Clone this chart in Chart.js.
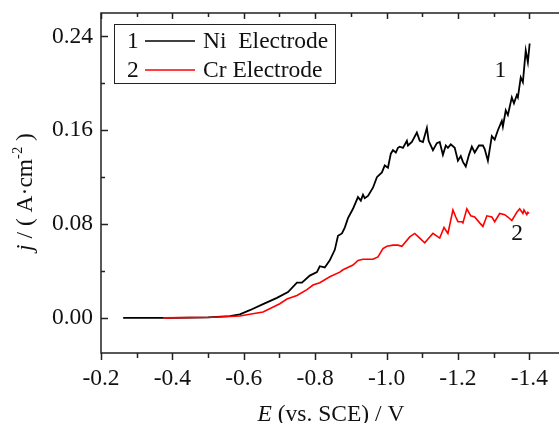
<!DOCTYPE html>
<html>
<head>
<meta charset="utf-8">
<script src="https://cdn.jsdelivr.net/npm/chart.js@4.4.1/dist/chart.umd.min.js"></script>
<style>
  html, body { margin: 0; padding: 0; background: #fff; overflow: hidden; }
  #wrap { width: 580px; height: 423px; }
</style>
</head>
<body>
<div id="wrap"><canvas id="lsvChart" width="580" height="423"></canvas></div>
<script>
// Linear sweep voltammetry: current density j vs. potential E (vs. SCE)
const SERIF = '"Liberation Serif", "Times New Roman", serif';
const FONT_PX = 23.5;

// curve 1 - Ni electrode
const niPotential = [
  -0.262, -0.400, -0.500, -0.561, -0.589, -0.617, -0.654, -0.693, -0.724, -0.749,
  -0.763, -0.785, -0.805, -0.813, -0.827, -0.841, -0.855, -0.864, -0.875, -0.883,
  -0.892, -0.906, -0.920, -0.928, -0.934, -0.939, -0.948, -0.962, -0.973, -0.987,
  -0.995, -1.004, -1.012, -1.018, -1.026, -1.032, -1.037, -1.046, -1.057, -1.060,
  -1.071, -1.085, -1.093, -1.102, -1.113, -1.118, -1.130, -1.141, -1.149, -1.158,
  -1.166, -1.172, -1.180, -1.191, -1.200, -1.208, -1.214, -1.222, -1.231, -1.239,
  -1.247, -1.259, -1.270, -1.275, -1.284, -1.295, -1.303, -1.312, -1.323, -1.326,
  -1.334, -1.340, -1.351, -1.357, -1.365, -1.368, -1.376, -1.382, -1.390, -1.396,
  -1.401
];
const niCurrent = [
  0.000, 0.000, 0.0004, 0.0015, 0.003, 0.0065, 0.0117, 0.017, 0.022, 0.030,
  0.030, 0.036, 0.039, 0.044, 0.043, 0.049, 0.058, 0.070, 0.072, 0.077,
  0.085, 0.093, 0.103, 0.100, 0.105, 0.102, 0.104, 0.111, 0.120, 0.124,
  0.130, 0.128, 0.140, 0.143, 0.141, 0.145, 0.146, 0.145, 0.151, 0.147,
  0.150, 0.158, 0.151, 0.150, 0.162, 0.151, 0.143, 0.149, 0.150, 0.139,
  0.147, 0.145, 0.148, 0.145, 0.134, 0.138, 0.133, 0.129, 0.139, 0.146,
  0.141, 0.147, 0.147, 0.144, 0.134, 0.155, 0.152, 0.160, 0.168, 0.163,
  0.177, 0.173, 0.188, 0.183, 0.190, 0.188, 0.205, 0.201, 0.228, 0.218,
  0.234
];

// curve 2 - Cr electrode
const crPotential = [
  -0.374, -0.514, -0.589, -0.617, -0.654, -0.701, -0.721, -0.749, -0.777, -0.794,
  -0.813, -0.841, -0.869, -0.878, -0.906, -0.920, -0.934, -0.962, -0.976, -0.990,
  -1.001, -1.018, -1.032, -1.043, -1.065, -1.079, -1.093, -1.107, -1.121, -1.130,
  -1.149, -1.161, -1.172, -1.186, -1.194, -1.200, -1.211, -1.214, -1.225, -1.236,
  -1.247, -1.261, -1.270, -1.275, -1.281, -1.295, -1.303, -1.317, -1.331, -1.340,
  -1.351, -1.359, -1.365, -1.373, -1.382, -1.385, -1.393, -1.396, -1.399
];
const crCurrent = [
  0.000, 0.0005, 0.0015, 0.003, 0.005, 0.012, 0.016, 0.019, 0.024, 0.028,
  0.030, 0.035, 0.039, 0.041, 0.045, 0.049, 0.050, 0.050, 0.052, 0.059,
  0.061, 0.062, 0.062, 0.061, 0.069, 0.072, 0.068, 0.064, 0.069, 0.072,
  0.068, 0.077, 0.072, 0.092, 0.086, 0.082, 0.082, 0.081, 0.093, 0.087,
  0.086, 0.081, 0.078, 0.082, 0.087, 0.086, 0.082, 0.089, 0.088, 0.086,
  0.083, 0.087, 0.090, 0.093, 0.089, 0.092, 0.088, 0.090, 0.089
];

const seriesNumbers = ['1', '2'];
const seriesNames = ['Ni  Electrode', 'Cr Electrode'];
const seriesColors = ['#000000', '#ff0000'];

const xTicks = [-0.2, -0.4, -0.6, -0.8, -1.0, -1.2, -1.4];
const xMinorTicks = [-0.3, -0.5, -0.7, -0.9, -1.1, -1.3, -1.5];
const yTicks = [0, 0.08, 0.16, 0.24];
const yMinorTicks = [0.04, 0.12, 0.20];

// curve numbers placed next to the traces (data coordinates)
const tagText = ['1', '2'];
const tagPotential = [-1.319, -1.366];
const tagCurrent = [0.2107, 0.0714];

const toPoints = (xs, ys) => xs.map((v, i) => ({ x: v, y: ys[i] }));

// draw a run of text pieces (italic / superscript) starting at (x, y)
function drawRuns(ctx, runs, x, y) {
  let cx = x;
  runs.forEach(r => {
    const size = r.sup ? FONT_PX * 0.62 : FONT_PX;
    ctx.font = `${r.italic ? 'italic ' : ''}${size}px ${SERIF}`;
    ctx.fillText(r.t, cx, r.sup ? y - FONT_PX * 0.42 : y);
    cx += ctx.measureText(r.t).width;
  });
}
function runsWidth(ctx, runs) {
  return runs.reduce((w, r) => {
    const size = r.sup ? FONT_PX * 0.62 : FONT_PX;
    ctx.font = `${r.italic ? 'italic ' : ''}${size}px ${SERIF}`;
    return w + ctx.measureText(r.t).width;
  }, 0);
}

const frameAndText = {
  id: 'frameAndText',
  afterDraw(chart) {
    const { ctx, chartArea: a, scales: { x, y } } = chart;
    ctx.save();
    ctx.strokeStyle = '#222';
    ctx.lineWidth = 1.5;
    ctx.beginPath();
    ctx.moveTo(a.right, a.top); ctx.lineTo(a.left, a.top);
    ctx.lineTo(a.left, a.bottom); ctx.lineTo(a.right, a.bottom);
    ctx.stroke();

    // ticks: bottom outward, top and left inward
    ctx.beginPath();
    const xt = (v, len) => {
      const px = Math.round(x.getPixelForValue(v)) + 0.5;
      ctx.moveTo(px, a.bottom); ctx.lineTo(px, a.bottom + len);
      ctx.moveTo(px, a.top); ctx.lineTo(px, a.top + len - 1);
    };
    xTicks.forEach(v => xt(v, 7));
    xMinorTicks.forEach(v => xt(v, 5));
    const yt = (v, len) => {
      const py = Math.round(y.getPixelForValue(v)) + 0.5;
      ctx.moveTo(a.left, py); ctx.lineTo(a.left + len, py);
    };
    yTicks.forEach(v => yt(v, 7));
    yMinorTicks.forEach(v => yt(v, 4));
    ctx.stroke();

    ctx.fillStyle = '#111';
    ctx.textBaseline = 'alphabetic';
    ctx.textAlign = 'left';

    // x axis title
    const xRuns = [{ t: 'E', italic: true }, { t: ' (vs. SCE) / V' }];
    drawRuns(ctx, xRuns, 331 - runsWidth(ctx, xRuns) / 2, 421);

    // y axis title, rotated
    const yRuns = [{ t: 'j', italic: true }, { t: ' / ( A\u00b7cm' }, { t: '-2', sup: true }, { t: ' )' }];
    ctx.save();
    ctx.translate(32, 192);
    ctx.rotate(-Math.PI / 2);
    drawRuns(ctx, yRuns, -runsWidth(ctx, yRuns) / 2, 0);
    ctx.restore();

    // curve numbers
    ctx.font = `${FONT_PX}px ${SERIF}`;
    ctx.textAlign = 'center';
    ctx.textBaseline = 'middle';
    tagText.forEach((t, i) => {
      ctx.fillText(t, x.getPixelForValue(tagPotential[i]), y.getPixelForValue(tagCurrent[i]));
    });

    // legend box
    ctx.lineWidth = 1;
    ctx.strokeStyle = '#222';
    ctx.strokeRect(114.5, 24.5, 221, 59);
    ctx.textAlign = 'left';
    seriesNames.forEach((name, i) => {
      const cy = 41 + i * 29;
      ctx.fillStyle = '#111';
      ctx.fillText(seriesNumbers[i], 127, cy + 1);
      ctx.strokeStyle = seriesColors[i];
      ctx.lineWidth = 1.6;
      ctx.beginPath();
      ctx.moveTo(145, cy); ctx.lineTo(195, cy);
      ctx.stroke();
      ctx.fillText(name, 203, cy + 1);
    });
    ctx.restore();
  }
};

new Chart(document.getElementById('lsvChart'), {
  type: 'line',
  data: {
    datasets: [
      {
        label: seriesNames[0],
        data: toPoints(niPotential, niCurrent),
        borderColor: seriesColors[0],
        borderWidth: 1.8,
        pointRadius: 0,
        tension: 0,
        order: 2
      },
      {
        label: seriesNames[1],
        data: toPoints(crPotential, crCurrent),
        borderColor: seriesColors[1],
        borderWidth: 1.6,
        pointRadius: 0,
        tension: 0,
        order: 1
      }
    ]
  },
  options: {
    responsive: false,
    animation: false,
    layout: { padding: { top: 13, right: 15, left: 0, bottom: 0 } },
    plugins: { legend: { display: false }, tooltip: { enabled: false } },
    scales: {
      x: {
        type: 'linear',
        reverse: true,
        min: -1.5,
        max: -0.2,
        afterFit: s => { s.height = 70; s.paddingLeft = 0; s.paddingRight = 0; },
        afterBuildTicks: s => { s.ticks = xTicks.map(v => ({ value: v })); },
        grid: { display: false, drawTicks: false },
        border: { display: false },
        ticks: {
          autoSkip: false,
          maxRotation: 0,
          padding: 12,
          color: '#111',
          font: { family: SERIF, size: FONT_PX },
          callback: v => v.toFixed(1)
        }
      },
      y: {
        type: 'linear',
        min: -0.03,
        max: 0.26,
        afterFit: s => { s.width = 101; s.paddingTop = 0; s.paddingBottom = 0; },
        afterBuildTicks: s => { s.ticks = yTicks.map(v => ({ value: v })); },
        grid: { display: false, drawTicks: false },
        border: { display: false },
        ticks: {
          padding: 8,
          color: '#111',
          font: { family: SERIF, size: FONT_PX },
          callback: v => v.toFixed(2)
        }
      }
    }
  },
  plugins: [frameAndText]
});
</script>
</body>
</html>
